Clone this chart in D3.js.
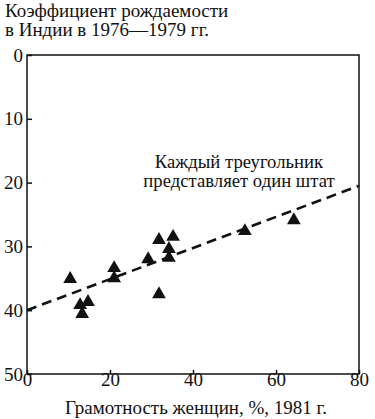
<!DOCTYPE html>
<html>
<head>
<meta charset="utf-8">
<script src="https://cdn.jsdelivr.net/npm/d3@7"></script>
<style>
  body { margin: 0; background: #fff; }
</style>
</head>
<body>
<svg id="chart" width="375" height="419"></svg>
<script>
// Literacy of women (%) and birth rate per state
const literacy = [10.4, 21, 21, 14.7, 12.8, 13.3, 31.8, 35.2, 34.2, 34.2, 29.2, 31.8, 52.5, 64.3];
const birthRate = [35.1, 33.4, 35.0, 38.7, 39.2, 40.6, 29.0, 28.5, 30.4, 31.8, 32.0, 37.5, 27.6, 25.9];
// Trend line end points
const trendX = [0, 80];
const trendY = [40, 20.5];
const xTicks = [0, 20, 40, 60, 80];
const yTicks = [0, 10, 20, 30, 40, 50];

const width = 375, height = 419;
const margin = { top: 55, right: 16, bottom: 45, left: 27 };
const font = "Liberation Serif";

const svg = d3.select("#chart");

// Scales
const x = d3.scaleLinear().domain([0, 80]).range([margin.left, width - margin.right]);
const y = d3.scaleLinear().domain([0, 50]).range([margin.top, height - margin.bottom]);

// Frame
svg
  .append("rect")
  .attr("x", x(0))
  .attr("y", y(0))
  .attr("width", x(80) - x(0))
  .attr("height", y(50) - y(0))
  .attr("fill", "none")
  .attr("stroke", "#111")
  .attr("stroke-width", 1.5);

// Left axis, ticks inward
const yAxis = svg
  .append("g")
  .attr("transform", `translate(${x(0)},0)`)
  .call(d3.axisLeft(y).tickValues(yTicks).tickSize(-5).tickPadding(4));
yAxis.select(".domain").remove();
yAxis.selectAll("line").attr("stroke", "#111").attr("stroke-width", 1.5);
yAxis
  .selectAll("text")
  .attr("font-family", font)
  .attr("font-size", 19)
  .attr("fill", "#111");

// Bottom axis, ticks inward
const xAxis = svg
  .append("g")
  .attr("transform", `translate(0,${y(50)})`)
  .call(d3.axisBottom(x).tickValues(xTicks).tickSize(-4).tickPadding(0));
xAxis.select(".domain").remove();
xAxis.selectAll("line").attr("stroke", "#111").attr("stroke-width", 1.5);
xAxis
  .selectAll("text")
  .attr("font-family", font)
  .attr("font-size", 19)
  .attr("fill", "#111")
  .attr("dy", "0.62em");

// Dashed trend line
svg
  .append("line")
  .attr("x1", x(trendX[0]))
  .attr("y1", y(trendY[0]))
  .attr("x2", x(trendX[1]))
  .attr("y2", y(trendY[1]))
  .attr("stroke", "#111")
  .attr("stroke-width", 2.6)
  .attr("stroke-dasharray", "10,6");

// Triangles
const tri = d3.symbol().type(d3.symbolTriangle).size(82);
svg
  .selectAll(".pt")
  .data(literacy)
  .enter()
  .append("path")
  .attr("class", "pt")
  .attr("d", tri)
  .attr("transform", (d, i) => `translate(${x(d)},${y(birthRate[i])})`)
  .attr("fill", "#111");

// Plain text helper
function label(tx, ty, str, anchor, size) {
  svg
    .append("text")
    .attr("x", tx)
    .attr("y", ty)
    .attr("text-anchor", anchor)
    .attr("font-family", font)
    .attr("font-size", size)
    .attr("fill", "#111")
    .text(str);
}

// Title
label(5, 17, "Коэффициент рождаемости", "start", 19);
label(5, 36, "в Индии в 1976—1979 гг.", "start", 19);

// Annotation
label(239, 168, "Каждый треугольник", "middle", 18.7);
label(239, 187, "представляет один штат", "middle", 18.7);

// X label
label(196, 414, "Грамотность женщин, %, 1981 г.", "middle", 19);
</script>
</body>
</html>
